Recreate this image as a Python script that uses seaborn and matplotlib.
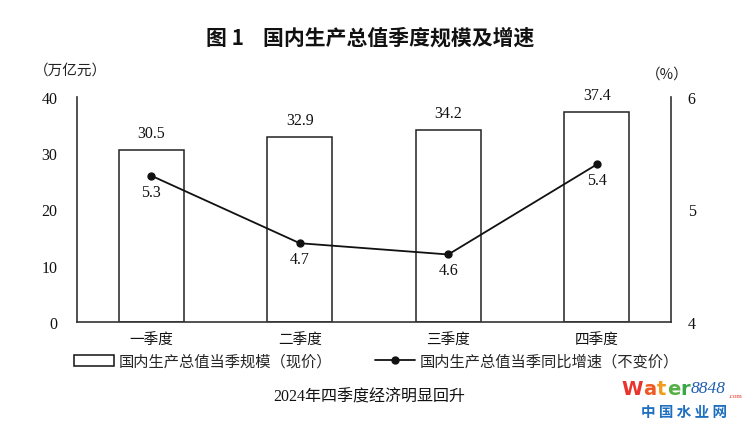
import seaborn as sns
import pandas as pd
import matplotlib.pyplot as plt
from matplotlib.patches import Patch
from matplotlib.lines import Line2D

# 数据
quarters = ['一季度', '二季度', '三季度', '四季度']
gdp_scale = [30.5, 32.9, 34.2, 37.4]      # 万亿元（现价）
gdp_growth = [5.3, 4.7, 4.6, 5.4]         # %（不变价）
left_ticks = [0, 10, 20, 30, 40]
right_ticks = [4, 5, 6]

df = pd.DataFrame({'quarter': quarters, 'scale': gdp_scale, 'growth': gdp_growth})

sns.set_theme(style='white')
plt.rcParams['font.family'] = ['Liberation Serif', 'Noto Sans CJK SC', 'DejaVu Sans']
serif_cjk = ['Liberation Serif', 'Noto Sans CJK SC']
sans_cjk = ['Noto Sans CJK SC', 'DejaVu Sans']

fig = plt.figure(figsize=(7.5, 4.27), dpi=100)
ax = fig.add_axes([0.1027, 0.2436, 0.792, 0.527])

sns.barplot(data=df, x='quarter', y='scale', ax=ax, color='white',
            edgecolor='#222222', linewidth=1.1, width=0.44, saturation=1)
ax.set_ylim(0, 40)
ax.set_yticks(left_ticks)
ax.set_xlim(-0.5, 3.5)
ax.set_xlabel('')
ax.set_ylabel('')
for i, v in enumerate(gdp_scale):
    ax.text(i, v + 1.6, f'{v}', ha='center', va='bottom', fontsize=11.5,
            family='Liberation Serif', color='#111111')

ax2 = ax.twinx()
sns.pointplot(data=df, x='quarter', y='growth', ax=ax2, color='#111111',
              markers='o', markersize=5, linewidth=1.3, errorbar=None)
ax2.set_ylim(4, 6)
ax2.set_yticks(right_ticks)
ax2.set_xlim(-0.5, 3.5)
ax2.set_xlabel('')
ax2.set_ylabel('')
for i, v in enumerate(gdp_growth):
    ax2.text(i, v - 0.07, f'{v}', ha='center', va='top', fontsize=11.5,
             family='Liberation Serif', color='#111111')

for a in (ax, ax2):
    a.tick_params(length=0, labelsize=11.5, colors='#111111')
    for s in a.spines.values():
        s.set_color('#333333')
        s.set_linewidth(1.2)
    a.spines['top'].set_visible(False)
ax2.spines['left'].set_visible(False)
ax2.spines['bottom'].set_visible(False)
ax.spines['right'].set_visible(False)
ax.tick_params(axis='y', pad=14)
ax2.tick_params(axis='y', pad=12)
ax.tick_params(axis='x', pad=8)
for lbl in ax.get_xticklabels():
    lbl.set_family(sans_cjk)
    lbl.set_fontsize(10.5)
for lbl in ax.get_yticklabels() + ax2.get_yticklabels():
    lbl.set_family('Liberation Serif')

# 标题与单位
fig.text(0.493, 0.91, '图 1    国内生产总值季度规模及增速', ha='center', va='center',
         fontsize=15, fontweight='bold', family=sans_cjk, color='#111111')
fig.text(0.045, 0.835, '（万亿元）', ha='left', va='center', fontsize=10.5,
         family=sans_cjk, color='#222222')
fig.text(0.89, 0.825, '（%）', ha='center', va='center', fontsize=10.5,
         family=sans_cjk, color='#222222')

# 图例
handles = [Patch(facecolor='white', edgecolor='#111111', linewidth=1.1),
           Line2D([0], [0], color='#111111', marker='o', markersize=5, linewidth=1.3)]
labels = ['国内生产总值当季规模（现价）', '国内生产总值当季同比增速（不变价）']
fig.legend(handles, labels, loc='center', bbox_to_anchor=(0.502, 0.152), ncol=2,
           frameon=False, handlelength=2.6, handletextpad=0.3,
           columnspacing=2.8, prop={'family': sans_cjk, 'size': 11})

fig.text(0.493, 0.068, '2024年四季度经济明显回升', ha='center', va='center',
         fontsize=11.5, family=serif_cjk, color='#111111')

# 水印
renderer = fig.canvas.get_renderer()
wm = [('W', '#e8342c'), ('a', '#ef5a24'), ('t', '#f39c1e'), ('e', '#56b046'), ('r', '#3aa648')]
x0 = 0.829
for ch, col in wm:
    t = fig.text(x0, 0.088, ch, ha='left', va='center', fontsize=14, fontweight='bold',
                 family='DejaVu Sans', color=col)
    bb = t.get_window_extent(renderer)
    x0 += (bb.width + 0.3) / fig.bbox.width
t = fig.text(x0 + 0.001, 0.088, '8848', ha='left', va='center', fontsize=12.5, style='italic',
             family='Liberation Serif', color='#1f5fb0')
bb = t.get_window_extent(renderer)
fig.text(x0 + 0.004 + bb.width / fig.bbox.width, 0.072, '.com', ha='left', va='center',
         fontsize=5, color='#e8342c')
fig.text(0.912, 0.035, '中 国 水 业 网', ha='center', va='center', fontsize=10.5,
         fontweight='bold', family=sans_cjk, color='#1f6fc0')

plt.savefig('out.png', dpi=100)
